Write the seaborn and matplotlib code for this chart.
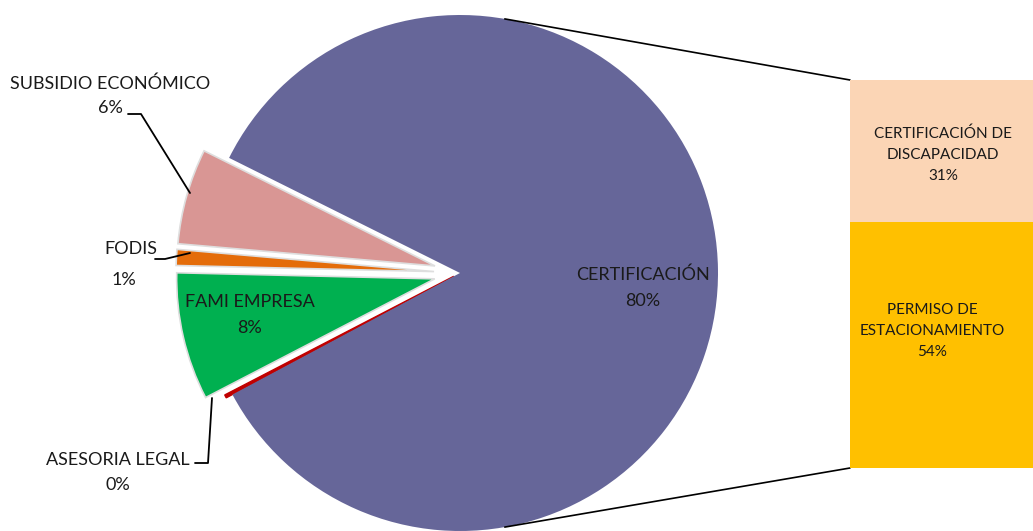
import numpy as np
import matplotlib
matplotlib.use("Agg")
import matplotlib.pyplot as plt
import seaborn as sns

# ---- data ----
pie_labels = ["SUBSIDIO ECONÓMICO", "FODIS", "FAMI EMPRESA", "ASESORIA LEGAL", "CERTIFICACIÓN"]
pie_pct_text = ["6%", "1%", "8%", "0%", "80%"]
small_values = [6, 1, 8, 0.2]
bar_labels = ["PERMISO DE\nESTACIONAMIENTO", "CERTIFICACIÓN DE\nDISCAPACIDAD"]
bar_values = [54, 31]
bar_pct_text = ["54%", "31%"]

pie_colors = ["#D99694", "#E46C0A", "#00B050", "#C00000", "#666699"]
bar_colors = ["#FFC000", "#FBD5B5"]

sns.set_style("white")
plt.rcParams["font.family"] = ["Lato", "DejaVu Sans"]

W, H = 1033, 531
fig = plt.figure(figsize=(W / 100, H / 100), dpi=100)
ax = fig.add_axes([0, 0, 1, 1])

values = small_values + [sum(bar_values)]
cx, cy, R = 460, 258, 258
explode = [26, 26, 26, 7, 0]  # data units (pixels)
wedges, _ = ax.pie(values, colors=pie_colors, startangle=153.5, counterclock=True,
                   center=(cx, cy), radius=R, explode=explode,
                   wedgeprops=dict(linewidth=0))
for w in wedges[:3]:
    w.set_edgecolor("#dedede")
    w.set_linewidth(1.2)
wedges[3].set_edgecolor("#C00000")
wedges[3].set_linewidth(1.0)

# bar of "other"
bx, bw = 850, 190
scale = (468 - 80) / sum(bar_values)
bottom = 63
for v, c in zip(bar_values, bar_colors):
    ax.bar(bx, v * scale, width=bw, bottom=bottom, align="edge", color=c, linewidth=0, zorder=3)
    bottom += v * scale
bar_top = bottom
bar_bot = 63

# connector lines
a = np.deg2rad(80)
ax.plot([cx + R * np.cos(a), bx], [cy + R * np.sin(a), bar_top], color="black", lw=1.2)
ax.plot([cx + R * np.cos(-a), bx], [cy + R * np.sin(-a), bar_bot], color="black", lw=1.2)

fs = 13
tc = "#1a1a1a"
def Y(y):
    return H - y

# pie labels
ax.text(110, Y(84), pie_labels[0], ha="center", va="center", fontsize=fs, color=tc)
ax.text(110, Y(108), pie_pct_text[0], ha="center", va="center", fontsize=fs, color=tc)
ax.plot([128, 141, 190], [Y(114), Y(114), Y(193)], color="black", lw=1.3)

ax.text(131, Y(249), pie_labels[1], ha="center", va="center", fontsize=fs, color=tc)
ax.text(124, Y(280), pie_pct_text[1], ha="center", va="center", fontsize=fs, color=tc)
ax.plot([155, 165, 190], [Y(259), Y(259), Y(253)], color="black", lw=1.3)

ax.text(250, Y(302), pie_labels[2], ha="center", va="center", fontsize=fs, color=tc)
ax.text(250, Y(328), pie_pct_text[2], ha="center", va="center", fontsize=fs, color=tc)

ax.text(118, Y(460), pie_labels[3], ha="center", va="center", fontsize=fs, color=tc)
ax.text(118, Y(485), pie_pct_text[3], ha="center", va="center", fontsize=fs, color=tc)
ax.plot([195, 208, 212], [Y(463), Y(463), Y(398)], color="black", lw=1.3)

ax.text(643, Y(275), pie_labels[4], ha="center", va="center", fontsize=fs, color=tc)
ax.text(643, Y(301), pie_pct_text[4], ha="center", va="center", fontsize=fs, color=tc)

# bar labels
bar_label_pos = [(932, Y(331)), (943, Y(155))]
for lab, pct, (tx, ty) in zip(bar_labels, bar_pct_text, bar_label_pos):
    ax.text(tx, ty, lab + "\n" + pct, ha="center", va="center",
            fontsize=11, color=tc, linespacing=1.65, zorder=4)

ax.set_xlim(0, W)
ax.set_ylim(0, H)
ax.set_aspect("equal")
ax.axis("off")
fig.savefig("out.png", dpi=100, facecolor="white")
